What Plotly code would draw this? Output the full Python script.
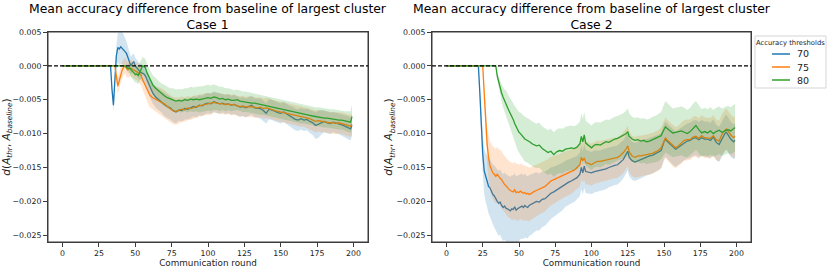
import plotly.graph_objects as go

# ---------------- data (values in units of 1e-4) ----------------
SCALE = 1e-4
THRESHOLDS = ["70", "75", "80"]
COLORS = ["#1f77b4", "#ff7f0e", "#2ca02c"]
FILLS = ["rgba(31,119,180,0.2)", "rgba(255,127,14,0.2)", "rgba(44,160,44,0.2)"]

X_TICKS = [0, 25, 50, 75, 100, 125, 150, 175, 200]
Y_TICKS = [0.005, 0.0, -0.005, -0.010, -0.015, -0.020, -0.025]

# ---- Case 1 ----
c1_rounds = [0, 10, 20, 30, 32] + list(range(33, 61)) + list(range(62, 199, 2)) + [199]

c1_mean_70 = [0, 0, 0, 0, 0,
    0, -35, -58, -20, 15, 27, 25, 28, 26, 24, 21, 18, 12, 6, 0, 4, 6, 0, -3, -6, -8, -10, -11, -12, -15, -20, -26, -32,
    -40, -46, -50, -53, -57, -60, -62, -66, -68, -65,
    -66, -63, -64, -62, -60, -61, -58, -59, -56, -55,
    -56, -53, -54, -56, -55, -57, -56, -58, -57, -59,
    -61, -60, -62, -60, -58, -62, -62, -63, -66, -70,
    -64, -65, -67, -69, -70, -68, -71, -74, -76, -79,
    -80, -78, -80, -79, -82, -84, -88, -86, -83, -82,
    -84, -85, -83, -84, -86, -87, -89, -91, -93,
    -88]
c1_spread_70 = [0, 0, 0, 0, 0,
    0, 8, 10, 10, 15, 22, 24, 25, 24, 22, 20, 18, 16, 14, 13, 13, 12, 12, 12, 12, 12, 12, 12, 13, 13, 14, 14, 15,
    15, 16, 16, 16, 17, 17, 17, 17, 17, 16,
    16, 16, 15, 15, 15, 15, 15, 15, 15, 15,
    15, 15, 15, 15, 14, 14, 14, 14, 14, 14,
    14, 14, 14, 14, 14, 14, 14, 15, 15, 15,
    15, 15, 15, 15, 15, 15, 15, 15, 16, 16,
    16, 16, 16, 16, 17, 18, 20, 20, 18, 16,
    16, 16, 15, 15, 15, 16, 16, 17, 17,
    15]

c1_mean_75 = [0, 0, 0, 0, 0,
    0, 0, 0, 0, -15, -30, -22, -12, -6, -2, 0, -4, -6, -4, -3, -5, -6, -7, -8, -10, -12, -14, -20, -25, -30, -35, -40, -43,
    -47, -49, -51, -53, -56, -60, -63, -66, -67, -66,
    -64, -65, -62, -63, -61, -60, -59, -58, -57, -56,
    -56, -54, -55, -55, -56, -57, -56, -58, -57, -59,
    -60, -59, -61, -60, -60, -61, -62, -61, -63, -62,
    -63, -65, -66, -67, -68, -69, -70, -71, -72, -73,
    -74, -75, -75, -77, -78, -80, -82, -81, -82, -82,
    -83, -84, -84, -85, -84, -85, -86, -87, -89,
    -86]
c1_spread_75 = [0, 0, 0, 0, 0,
    0, 0, 0, 0, 8, 12, 12, 12, 12, 12, 12, 12, 12, 12, 12, 12, 13, 13, 13, 14, 14, 15, 15, 16, 16, 17, 17, 18,
    18, 19, 19, 20, 20, 20, 20, 20, 20, 19,
    19, 18, 18, 17, 17, 17, 16, 16, 16, 16,
    16, 15, 15, 15, 15, 15, 15, 15, 15, 15,
    15, 15, 15, 15, 15, 15, 15, 15, 15, 15,
    15, 15, 15, 15, 15, 15, 15, 15, 15, 15,
    15, 15, 15, 15, 15, 16, 16, 16, 16, 16,
    16, 16, 16, 16, 16, 16, 16, 16, 16,
    16]

c1_mean_80 = [0, 0, 0, 0, 0,
    0, 0, 0, 0, 0, 0, 0, 0, 0, 0, 0, -2, -4, -3, -6, -8, -10, -13, -12, -14, -10, -4, 0, -1, -3, -10, -15, -20,
    -28, -33, -37, -41, -44, -47, -49, -50, -52, -51,
    -52, -50, -51, -49, -50, -49, -50, -49, -48, -47,
    -48, -46, -47, -49, -48, -50, -49, -51, -51, -50,
    -52, -53, -53, -54, -55, -55, -56, -57, -58, -58,
    -60, -61, -62, -63, -64, -65, -65, -67, -68, -68,
    -70, -71, -71, -72, -73, -74, -75, -75, -76, -77,
    -77, -78, -78, -79, -80, -80, -81, -82, -83,
    -75]
c1_spread_80 = [0, 0, 0, 0, 0,
    0, 0, 0, 0, 0, 0, 0, 0, 0, 0, 0, 4, 6, 8, 10, 11, 12, 12, 13, 13, 13, 13, 13, 13, 13, 13, 14, 14,
    14, 15, 15, 15, 16, 16, 16, 17, 17, 17,
    17, 17, 18, 18, 18, 18, 19, 19, 19, 19,
    19, 19, 18, 18, 17, 17, 16, 16, 15, 15,
    15, 15, 15, 15, 15, 15, 15, 15, 14, 14,
    14, 14, 14, 14, 14, 14, 14, 14, 14, 14,
    14, 14, 14, 14, 14, 14, 14, 14, 14, 14,
    14, 14, 14, 14, 14, 14, 14, 15, 16,
    18]

# ---- Case 2 ----
c2_rounds = [0, 10, 20] + list(range(22, 61)) + [
    62, 64, 66, 68, 70, 72, 74, 76, 78, 80,
    82, 84, 86, 88, 90, 92, 93, 94, 95, 96,
    98, 100, 102, 104, 106, 108, 110, 112, 114, 116,
    118, 120, 122, 124, 125, 126, 128, 130, 132, 134,
    136, 138, 140, 142, 144, 146, 148, 150, 151, 152,
    154, 156, 158, 160, 162, 164, 166, 168, 170, 172,
    174, 176, 178, 180, 182, 184, 186, 188, 190, 192,
    193, 194, 196, 198, 199]

c2_mean_70 = [0, 0, 0,
    0, -40, -90, -130, -155, -165, -170, -178, -180, -185,
    -190, -192, -197, -200, -203, -201, -206, -209, -207, -210,
    -211, -213, -214, -211, -212, -208, -213, -211, -210, -208,
    -207, -209, -206, -208, -209, -206, -205, -204, -203,
    -200, -201, -197, -196, -192, -188, -186, -183, -181, -178,
    -174, -172, -170, -168, -165, -160, -150, -158, -148, -156,
    -157, -158, -156, -155, -155, -153, -152, -150, -148, -147,
    -146, -142, -138, -130, -126, -135, -140, -142, -140, -138,
    -136, -135, -133, -132, -130, -128, -125, -112, -108, -111,
    -115, -120, -123, -120, -117, -113, -111, -110, -107, -106,
    -109, -106, -108, -108, -110, -105, -113, -116, -107, -100,
    -98, -101, -108, -112, -110]
c2_spread_70 = [0, 0, 0,
    0, 10, 20, 28, 33, 36, 38, 40, 42, 43,
    44, 45, 46, 47, 48, 48, 49, 49, 50, 50,
    50, 50, 50, 50, 50, 50, 50, 49, 49, 48,
    48, 47, 47, 46, 46, 45, 45, 44, 44,
    43, 42, 41, 40, 39, 38, 37, 36, 35, 35,
    34, 34, 33, 33, 32, 32, 32, 32, 32, 32,
    31, 31, 31, 30, 30, 30, 30, 29, 29, 29,
    29, 29, 28, 28, 28, 28, 28, 28, 28, 28,
    28, 27, 27, 27, 27, 26, 26, 26, 26, 26,
    26, 26, 26, 26, 26, 26, 26, 26, 26, 26,
    26, 26, 26, 26, 26, 26, 26, 26, 26, 26,
    26, 26, 26, 26, 26]

c2_mean_75 = [0, 0, 0,
    0, 0, 0, 0, -40, -80, -115, -135, -148, -153,
    -158, -160, -163, -160, -164, -166, -168, -172, -175, -177,
    -180, -182, -184, -185, -186, -183, -187, -186, -187, -185,
    -186, -188, -187, -189, -188, -190, -189, -187, -186,
    -184, -182, -180, -178, -174, -170, -168, -166, -164, -162,
    -160, -158, -156, -154, -150, -146, -135, -140, -136, -143,
    -144, -146, -143, -141, -141, -140, -139, -138, -137, -136,
    -135, -132, -128, -122, -118, -127, -133, -135, -133, -133,
    -132, -131, -131, -129, -127, -125, -121, -110, -106, -109,
    -113, -118, -121, -118, -114, -110, -109, -109, -105, -104,
    -107, -103, -106, -106, -107, -103, -109, -111, -101, -95,
    -93, -96, -102, -106, -104]
c2_spread_75 = [0, 0, 0,
    0, 0, 0, 0, 10, 20, 28, 33, 36, 38,
    39, 40, 40, 41, 41, 42, 42, 42, 42, 42,
    42, 42, 42, 42, 42, 42, 42, 42, 41, 41,
    41, 41, 40, 40, 40, 40, 39, 39, 39,
    38, 38, 37, 37, 36, 36, 35, 35, 34, 34,
    33, 33, 33, 32, 32, 32, 32, 32, 32, 32,
    31, 31, 31, 31, 30, 30, 30, 30, 30, 30,
    30, 30, 30, 30, 30, 30, 30, 30, 30, 30,
    30, 30, 30, 30, 30, 30, 30, 30, 30, 30,
    30, 30, 30, 30, 30, 30, 30, 30, 30, 30,
    30, 30, 30, 30, 30, 30, 30, 30, 30, 30,
    30, 30, 30, 30, 30]

c2_mean_80 = [0, 0, 0,
    0, 0, 0, 0, 0, 0, 0, 0, 0, 0,
    0, 0, 0, -15, -25, -32, -40, -46, -52, -55,
    -61, -66, -70, -74, -79, -85, -90, -95, -98, -100,
    -103, -106, -108, -109, -110, -112, -113, -115, -116,
    -118, -117, -122, -125, -128, -126, -131, -127, -125, -126,
    -123, -122, -121, -122, -120, -115, -104, -112, -102, -114,
    -118, -121, -117, -116, -117, -114, -112, -113, -110, -108,
    -107, -105, -103, -100, -97, -104, -108, -110, -109, -111,
    -110, -112, -111, -109, -108, -106, -103, -94, -90, -92,
    -95, -99, -98, -97, -96, -98, -100, -97, -92, -88,
    -94, -99, -97, -99, -96, -100, -97, -95, -98, -96,
    -95, -94, -96, -93, -91]
c2_spread_80 = [0, 0, 0,
    0, 0, 0, 0, 0, 0, 0, 0, 0, 0,
    0, 0, 0, 5, 8, 10, 13, 15, 17, 19,
    20, 21, 22, 23, 24, 26, 28, 29, 30, 31,
    32, 32, 33, 33, 33, 33, 33, 33, 33,
    33, 33, 33, 33, 33, 33, 33, 33, 33, 33,
    33, 33, 33, 33, 33, 33, 34, 34, 34, 33,
    33, 33, 33, 33, 33, 33, 33, 33, 33, 33,
    33, 33, 33, 34, 34, 34, 33, 33, 33, 33,
    33, 33, 33, 34, 34, 35, 35, 37, 38, 38,
    37, 36, 36, 36, 36, 36, 35, 35, 36, 36,
    35, 35, 35, 35, 35, 35, 35, 35, 35, 35,
    35, 35, 35, 35, 35]

PANELS = [
    (c1_rounds, [c1_mean_70, c1_mean_75, c1_mean_80], [c1_spread_70, c1_spread_75, c1_spread_80]),
    (c2_rounds, [c2_mean_70, c2_mean_75, c2_mean_80], [c2_spread_70, c2_spread_75, c2_spread_80]),
]
TITLES = ["Mean accuracy difference from baseline of largest cluster<br>Case 1",
          "Mean accuracy difference from baseline of largest cluster<br>Case 2"]
X_LABEL = "Communication round"
LEGEND_TITLE = "Accuracy thresholds"

# ---------------- figure ----------------
W, H = 831, 269
FONT = "DejaVu Sans"
TXT = "#222"
FRAME = "#3c3c3c"
fig = go.Figure()

for p, (rounds, means, spreads) in enumerate(PANELS):
    xa = "x" if p == 0 else "x2"
    ya = "y" if p == 0 else "y2"
    for k in range(3):
        m, s = means[k], spreads[k]
        assert len(m) == len(rounds) and len(s) == len(rounds)
        yv = [v * SCALE for v in m]
        up = [(a + b) * SCALE for a, b in zip(m, s)]
        lo = [(a - b) * SCALE for a, b in zip(m, s)]
        fig.add_trace(go.Scatter(x=rounds, y=yv, mode="lines", xaxis=xa, yaxis=ya,
                                 line=dict(color=COLORS[k], width=1.3),
                                 name=THRESHOLDS[k], showlegend=False))
        fig.add_trace(go.Scatter(x=list(rounds) + list(rounds[::-1]), y=up + lo[::-1],
                                 fill="toself", fillcolor=FILLS[k], line=dict(width=0),
                                 mode="lines", xaxis=xa, yaxis=ya, hoverinfo="skip",
                                 showlegend=False))

axis_common = dict(showline=True, mirror=True, linecolor=FRAME, linewidth=1,
                   ticks="outside", ticklen=4, tickwidth=1, tickcolor=FRAME,
                   showgrid=False, zeroline=False, automargin=False,
                   tickfont=dict(family=FONT, size=7.8, color=TXT))

xdoms = [[48 / W, 368 / W], [432 / W, 751 / W]]
ydom = [1 - 242 / H, 1 - 32 / H]
ytitle = "<i>d</i>(<i>A</i><sub><i>thr</i></sub>, <i>A</i><sub><i>baseline</i></sub>)"

for p in range(2):
    sx = "" if p == 0 else "2"
    fig.update_layout(**{
        "xaxis" + sx: dict(axis_common, domain=xdoms[p], range=[-10, 210], tickvals=X_TICKS,
                           anchor="y" + sx,
                           title=dict(text=X_LABEL, standoff=0,
                                      font=dict(family=FONT, size=8.8, color=TXT))),
        "yaxis" + sx: dict(axis_common, domain=ydom, range=[-0.026, 0.005], tickvals=Y_TICKS,
                           tickformat=".3f", anchor="x" + sx,
                           title=dict(text=ytitle, standoff=1,
                                      font=dict(family=FONT, size=10.5, color=TXT))),
    })
    # frame around the axes area
    fig.add_shape(type="rect", xref="x" + sx + " domain", yref="y" + sx + " domain",
                  x0=0, x1=1, y0=0, y1=1, layer="above",
                  line=dict(color=FRAME, width=1), fillcolor="rgba(0,0,0,0)")
    fig.add_shape(type="line", xref=("x" + sx + " domain"), yref="y" + sx,
                  x0=0, x1=1, y0=0, y1=0, layer="above",
                  line=dict(color="black", width=1.2, dash="4px,2px"))
    cx = (xdoms[p][0] + xdoms[p][1]) / 2
    fig.add_annotation(text=TITLES[p], xref="paper", yref="paper", x=cx, y=1 - 17 / H,
                       xanchor="center", yanchor="middle", showarrow=False, borderpad=0,
                       font=dict(family=FONT, size=12.4, color="black"))

# ---- legend (drawn as box + sample lines + text, matching the compact original) ----
fig.add_shape(type="rect", xref="paper", yref="paper",
              x0=755 / W, x1=826 / W, y0=1 - 88 / H, y1=1 - 36 / H,
              line=dict(color="#d5d5d5", width=1), fillcolor="rgba(255,255,255,0.85)", layer="above")
fig.add_annotation(text=LEGEND_TITLE, xref="paper", yref="paper", x=790.5 / W, y=1 - 42.5 / H,
                   xanchor="center", yanchor="middle", showarrow=False, borderpad=0,
                   font=dict(family=FONT, size=6.8, color=TXT))
for k in range(3):
    yy = 1 - (54 + 13 * k) / H
    fig.add_shape(type="line", xref="paper", yref="paper", x0=772 / W, x1=790 / W, y0=yy, y1=yy,
                  line=dict(color=COLORS[k], width=1.5), layer="above")
    fig.add_annotation(text=THRESHOLDS[k], xref="paper", yref="paper", x=796 / W, y=yy,
                       xanchor="left", yanchor="middle", showarrow=False, borderpad=0,
                       font=dict(family=FONT, size=9.5, color=TXT))

fig.update_layout(
    template="none",
    width=W, height=H, autosize=False,
    margin=dict(l=0, r=0, t=0, b=0),
    paper_bgcolor="white", plot_bgcolor="white",
    font=dict(family=FONT, color=TXT),
    showlegend=False,
)

fig.write_html("out.html", config={"displayModeBar": False, "responsive": False},
               post_script="document.body.style.margin='0px';document.body.style.padding='0px';")
